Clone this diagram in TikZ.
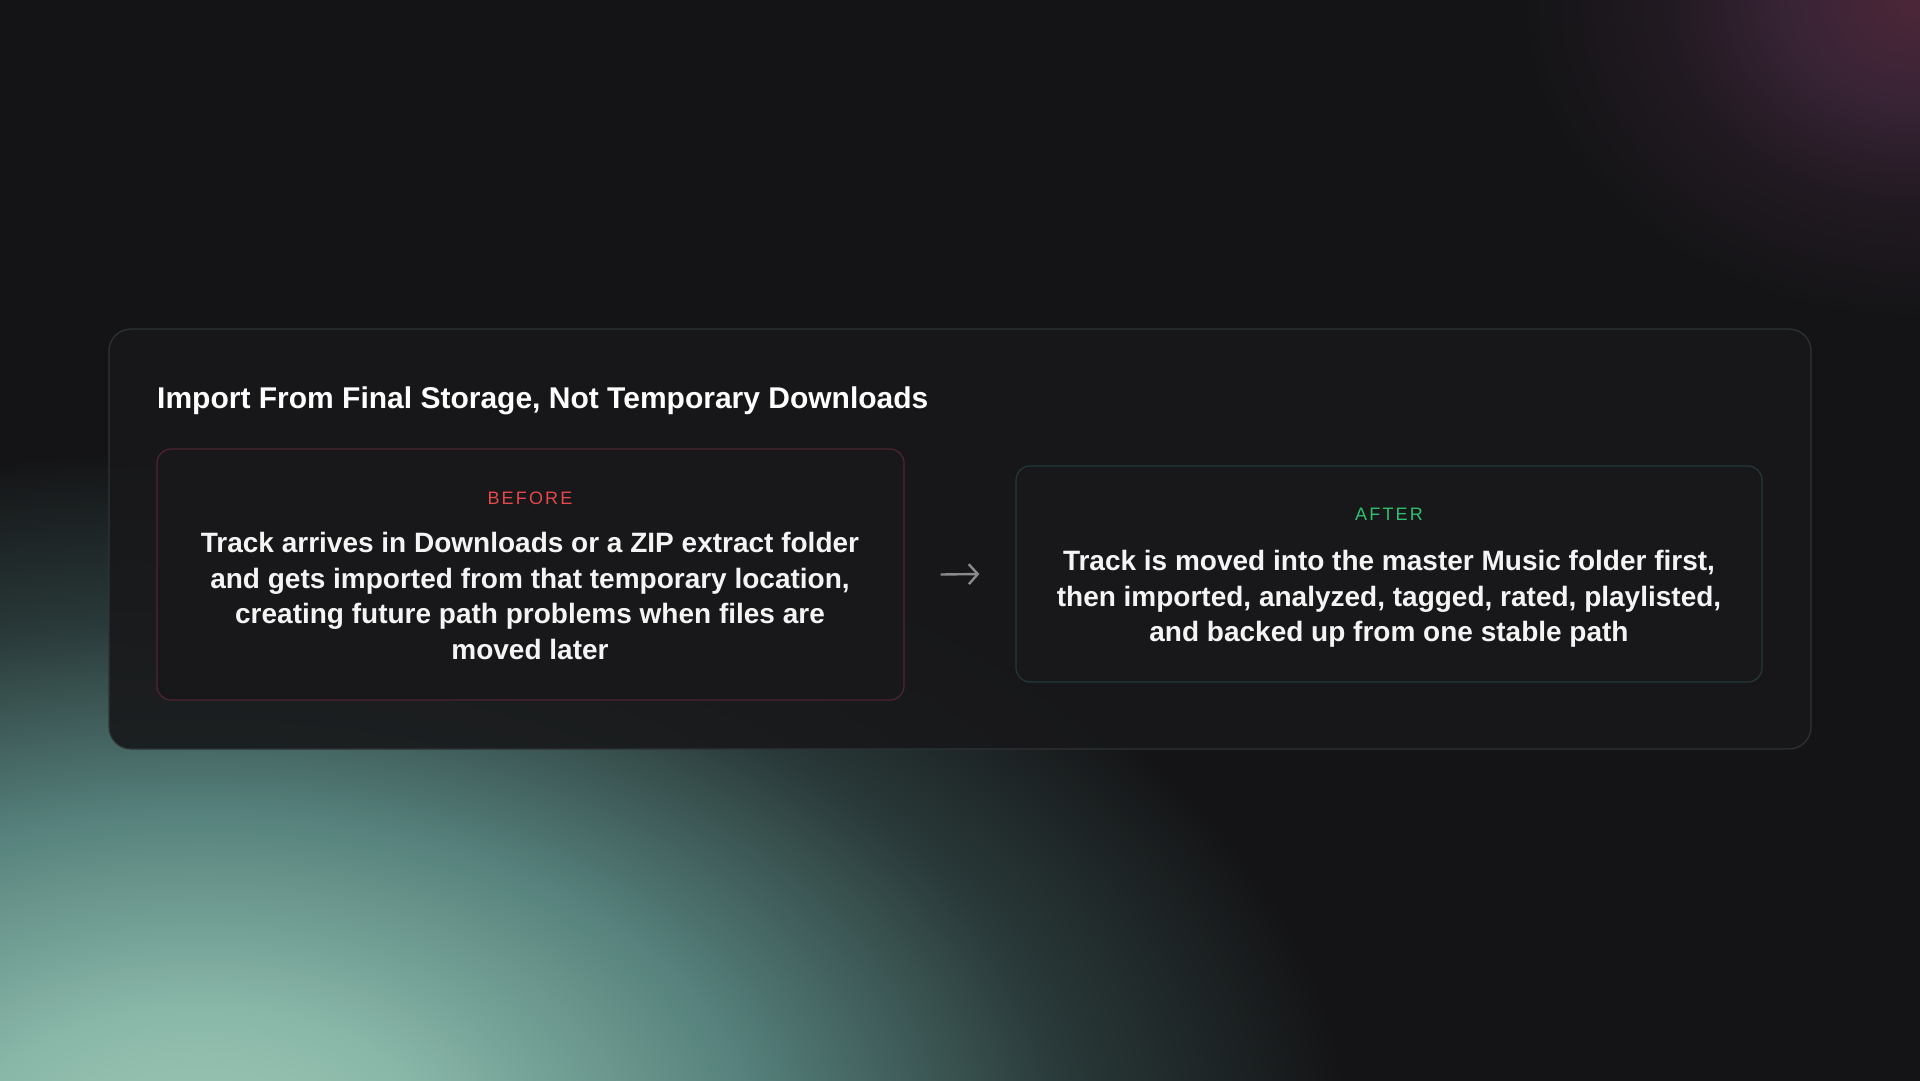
\documentclass[tikz,border=0pt]{standalone}
\usepackage{fontspec}
\setmainfont{Liberation Sans}
\usetikzlibrary{arrows.meta}
\usetikzlibrary{positioning}

\definecolor{pagebg}{HTML}{141416}
\definecolor{cardbg}{HTML}{18181A}
\definecolor{cardline}{HTML}{2E3436}
\definecolor{redline}{HTML}{4E2530}
\definecolor{tealline}{HTML}{25393A}
\definecolor{redtag}{HTML}{E5484D}
\definecolor{greentag}{HTML}{2FBF71}
\definecolor{bodytext}{HTML}{F4F4F5}
\definecolor{arrowgray}{HTML}{8A8A8E}

\pgfdeclareradialshading{tealglow}{\pgfpointorigin}{rgb(0bp)=(0.62,0.79,0.71); rgb(5bp)=(0.54,0.72,0.66); rgb(12bp)=(0.34,0.51,0.49); rgb(19bp)=(0.16,0.22,0.22); rgb(25bp)=(0.078,0.078,0.086); rgb(50bp)=(0.078,0.078,0.086)}
\pgfdeclareradialshading{plumglow}{\pgfpointorigin}{rgb(0bp)=(0.30,0.15,0.22); rgb(8bp)=(0.22,0.14,0.21); rgb(16bp)=(0.13,0.10,0.13); rgb(25bp)=(0.078,0.078,0.086); rgb(50bp)=(0.078,0.078,0.086)}

\tikzset{card/.style={draw=cardline,line width=1.2pt,fill=cardbg,fill opacity=0.9,rounded corners=22pt}}
\tikzset{pane/.style={draw=#1,line width=1.2pt,fill=cardbg,rounded corners=14pt,inner sep=0pt}}
\tikzset{tag/.style={text=#1,font=\fontsize{18}{22}\selectfont\addfontfeature{LetterSpace=12}}}
\tikzset{body/.style={text=bodytext,align=center,font=\fontsize{28}{35.5}\selectfont\bfseries}}
\tikzset{flowarrow/.style={draw=arrowgray,line width=2.4pt,-{Straight Barb[length=9pt,width=20pt,line width=2.4pt]}}}

\begin{document}
\begin{tikzpicture}[x=1pt,y=-1pt]
      \useasboundingbox (0,0) rectangle (1920,1080);
      % background and glows
      \fill[pagebg] (-10,-10) rectangle (1930,1090);
      \begin{scope}
      \clip (-10,-10) rectangle (1930,1090);
      \shade[shading=tealglow] (200,1150) ellipse (1150 and 700);
      \shade[shading=plumglow] (1920,0) ellipse (400 and 320);
      \end{scope}

      % main card
      \node[card,minimum width=1702,minimum height=420] (panel) at (960,539) {};
      \node[anchor=base west,text=white,font=\fontsize{30}{36}\selectfont\bfseries,inner sep=0pt] (heading) at (157,408) {Import From Final Storage, Not Temporary Downloads};

      \node[pane=redline,minimum width=747,minimum height=251] (before) at (530.5,574.5) {};
      \node[pane=tealline,minimum width=746,minimum height=216] (after) at (1389,574) {};

      \node[tag=redtag] (beforetag) at (530,498) {BEFORE};
      \node[body] (beforetext) at (530,596) {Track arrives in Downloads or a ZIP extract folder\\and gets imported from that temporary location,\\creating future path problems when files are\\moved later};

      \node[tag=greentag] (aftertag) at (1389,514) {AFTER};
      \node[body] (aftertext) at (1389,599) {Track is moved into the master Music folder first,\\then imported, analyzed, tagged, rated, playlisted,\\and backed up from one stable path};

      \draw[flowarrow] ([xshift=36pt]before.east) -- ([xshift=-36pt]after.west);
\end{tikzpicture}
\end{document}
